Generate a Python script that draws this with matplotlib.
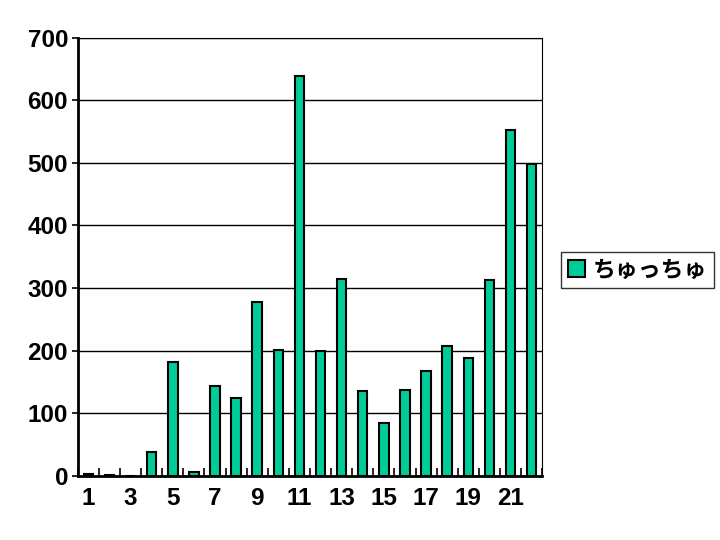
import matplotlib
matplotlib.use("Agg")
import matplotlib.pyplot as plt
import numpy as np

categories = [str(i) for i in range(1, 23)]
values = [3, 1, 0, 38, 182, 7, 144, 124, 278, 201, 638, 200, 315, 135, 85, 138, 168, 208, 189, 313, 553, 498]
series_name = "ちゅっちゅ"
yticks = [0, 100, 200, 300, 400, 500, 600, 700]

plt.rcParams['font.family'] = ['Liberation Sans', 'DejaVu Sans']

fig = plt.figure(figsize=(7.2, 5.4), dpi=100)
ax = fig.add_axes([0.108, 0.1185, 0.645, 0.812])

x = np.arange(len(categories))
bars = ax.bar(x, values, width=0.45, color='#00CC99', edgecolor='black', linewidth=1.5,
              zorder=3, label=series_name)

ax.set_xlim(-0.5, len(categories) - 0.5)
ax.set_ylim(0, 700)
ax.set_yticks(yticks)
ax.set_yticklabels([str(v) for v in yticks], fontsize=17.5, fontweight='bold')
ax.yaxis.grid(True, color='black', linewidth=1.0, zorder=0)
ax.tick_params(axis='y', direction='out', length=4, width=1.2, pad=3)

# category labels (every other)
ax.set_xticks(x[::2])
ax.set_xticklabels(categories[::2], fontsize=17.5, fontweight='bold')
ax.tick_params(axis='x', which='major', length=0, pad=8)
# boundary tick marks pointing inward
ax.set_xticks(np.arange(-0.5, len(categories) + 0.5, 1), minor=True)
ax.tick_params(axis='x', which='minor', direction='in', length=6, width=1.2)

for s in ['left', 'bottom']:
    ax.spines[s].set_linewidth(2.0)
for s in ['top', 'right']:
    ax.spines[s].set_linewidth(0.8)

leg = fig.legend(handles=[bars], labels=[series_name], loc='center left',
                 bbox_to_anchor=(0.779, 0.5), borderaxespad=0, frameon=True, fancybox=False,
                 edgecolor='black', handlelength=0.75, handleheight=0.75,
                 handletextpad=0.35, borderpad=0.3,
                 prop={'family': ['Noto Sans CJK JP', 'DejaVu Sans'], 'size': 16.5, 'weight': 'bold'})
leg.get_frame().set_linewidth(1.0)

fig.savefig('out.png', dpi=100)
